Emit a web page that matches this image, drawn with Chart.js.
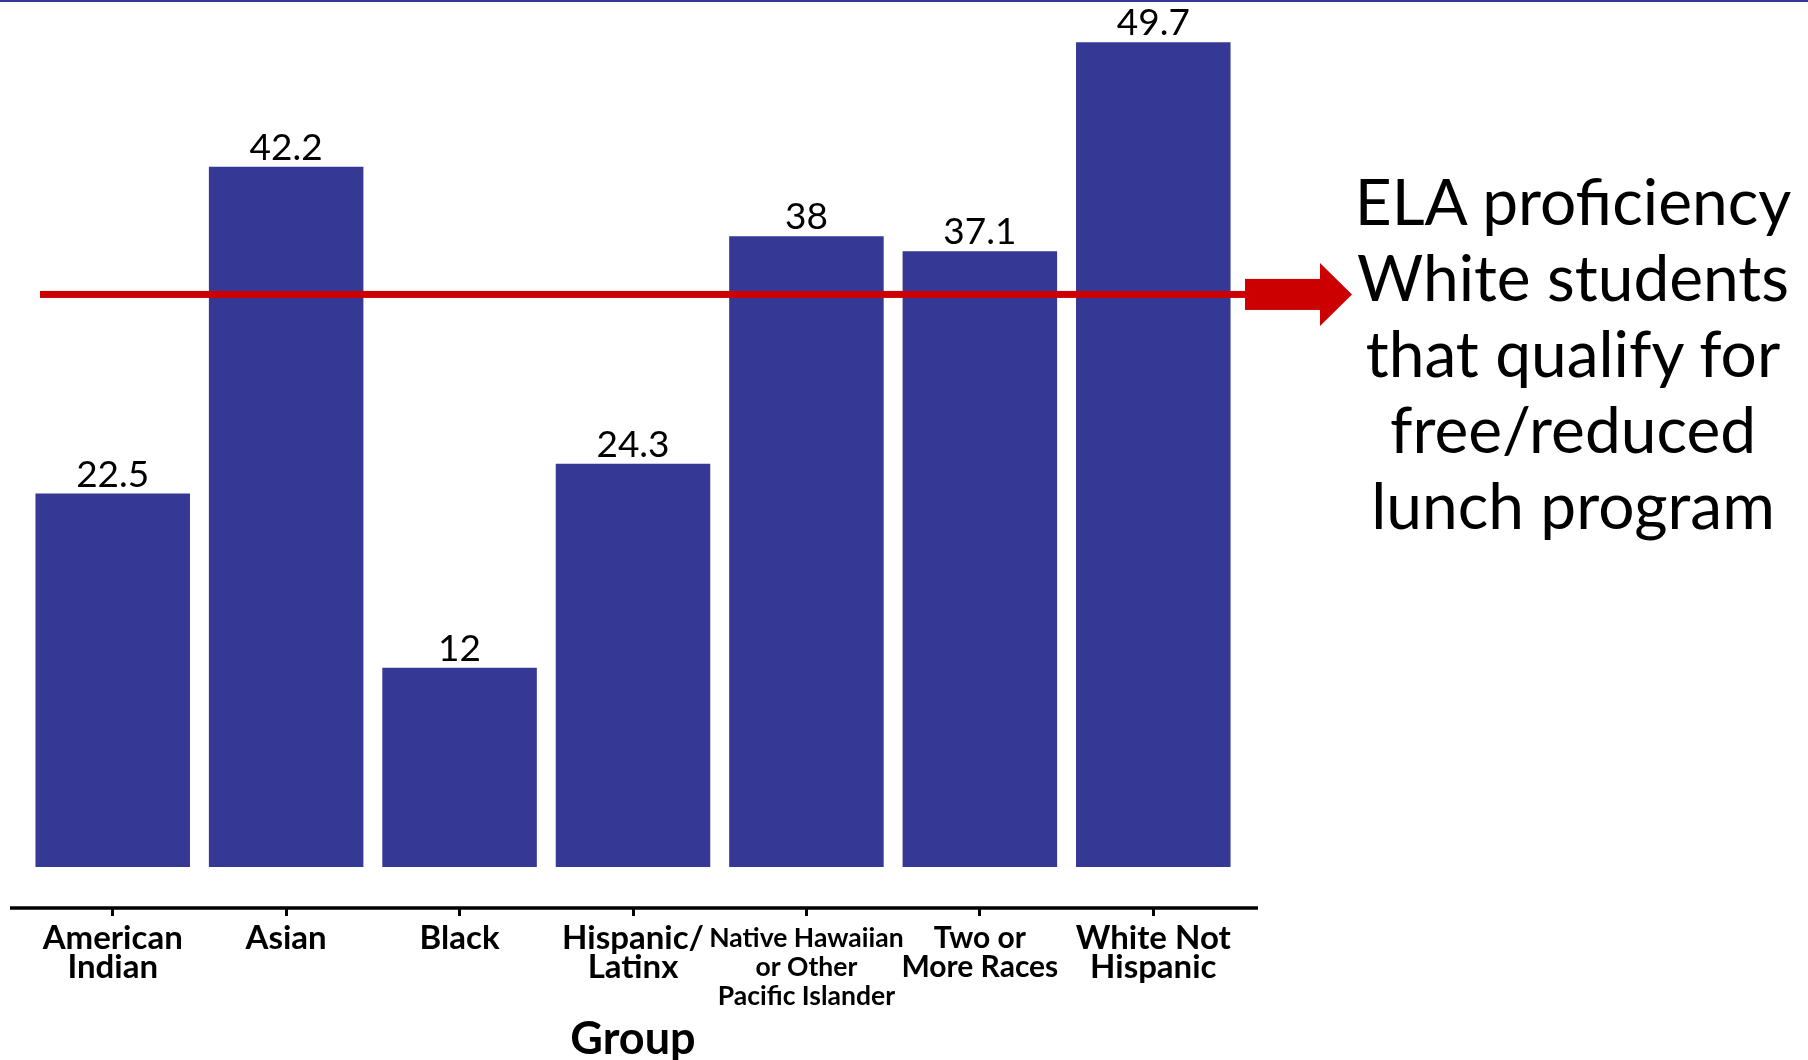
<!DOCTYPE html>
<html>
<head>
<meta charset="utf-8">
<script src="https://cdn.jsdelivr.net/npm/chart.js@4.4.1/dist/chart.umd.min.js"></script>
<style>
  html, body { margin: 0; padding: 0; background: #fff; }
  #wrap { position: relative; width: 1808px; height: 1060px; overflow: hidden; }
  #topLine { position: absolute; left: 0; top: 0; width: 1808px; height: 2px; background: #363895; }
  #note {
    position: absolute; left: 1333px; top: 163px; width: 480px;
    text-align: center; font-family: Lato, sans-serif; font-size: 64px; line-height: 76px; color: #000;
  }
</style>
</head>
<body>
<div id="wrap">
  <canvas id="groupChart"></canvas>
  <div id="topLine"></div>
  <div id="note">ELA proficiency<br>White students<br>that qualify for<br>free/reduced<br>lunch program</div>
</div>
<script>
// Group names (multi-line tick labels)
const groups = [
    ['American', 'Indian'],
    ['Asian'],
    ['Black'],
    ['Hispanic/', 'Latinx'],
    ['Native Hawaiian', 'or Other', 'Pacific Islander'],
    ['Two or', 'More Races'],
    ['White Not', 'Hispanic']
];
// ELA proficiency (%) per group
const proficiency = [22.5, 42.2, 12, 24.3, 38, 37.1, 49.7];
// White students that qualify for free/reduced lunch (red line)
const whiteFrlProficiency = 34.5;

const barColor = '#363895';
const red = '#cc0000';
// long labels are squeezed a bit in the original
const tickFontSizes = [33, 33, 33, 33, 26.5, 30, 33];

// Value labels, axis line and the red reference arrow
const extras = {
    id: 'extras',
    afterDatasetsDraw(chart) {
        const ctx = chart.ctx;
        const area = chart.chartArea;
        const meta = chart.getDatasetMeta(0);
        ctx.save();

        ctx.font = '37px Lato';
        ctx.fillStyle = '#000';
        ctx.textAlign = 'center';
        ctx.textBaseline = 'alphabetic';
        meta.data.forEach((bar, i) => {
            ctx.fillText(String(proficiency[i]), bar.x, bar.y - 7);
        });

        // x axis line, a little wider than the bars
        ctx.strokeStyle = '#000';
        ctx.lineWidth = 3.5;
        ctx.beginPath();
        ctx.moveTo(area.left - 16, area.bottom);
        ctx.lineTo(area.right + 18, area.bottom);
        ctx.stroke();

        // reference line + arrow
        const ry = chart.scales.y.getPixelForValue(whiteFrlProficiency);
        const lineStart = area.left + 14;
        const boxStart = area.right + 5;
        const boxEnd = area.right + 80;
        const tip = area.right + 112;
        ctx.fillStyle = red;
        ctx.fillRect(lineStart, ry - 3.5, boxStart - lineStart, 7);
        ctx.fillRect(boxStart, ry - 15.5, boxEnd - boxStart, 31);
        ctx.beginPath();
        ctx.moveTo(boxEnd, ry - 31.5);
        ctx.lineTo(tip, ry);
        ctx.lineTo(boxEnd, ry + 31.5);
        ctx.closePath();
        ctx.fill();

        ctx.restore();
    }
};

const chart = new Chart(document.getElementById('groupChart'), {
    type: 'bar',
    data: {
        labels: groups,
        datasets: [{
            label: 'ELA proficiency',
            data: proficiency,
            backgroundColor: barColor,
            borderWidth: 0,
            barPercentage: 0.891,
            categoryPercentage: 1.0
        }]
    },
    options: {
        responsive: true,
        maintainAspectRatio: false,
        animation: false,
        layout: {
            padding: { left: 26, right: 568, top: 4, bottom: 0 }
        },
        scales: {
            y: {
                display: false,
                min: -2.47,
                max: 52
            },
            x: {
                offset: true,
                border: { display: false },
                grid: {
                    display: true,
                    drawOnChartArea: false,
                    drawTicks: true,
                    offset: false,
                    tickLength: 8,
                    tickWidth: 3,
                    tickColor: '#000'
                },
                ticks: {
                    color: '#000',
                    padding: 8,
                    maxRotation: 0,
                    minRotation: 0,
                    autoSkip: false,
                    font: (c) => ({
                        family: 'Lato',
                        weight: 'bold',
                        size: tickFontSizes[c.index] || 33,
                        lineHeight: '29px'
                    })
                },
                title: {
                    display: true,
                    text: 'Group',
                    color: '#000',
                    font: { family: 'Lato', weight: 'bold', size: 45, lineHeight: '41px' },
                    padding: { top: 0, bottom: 0 }
                }
            }
        },
        plugins: {
            legend: { display: false },
            tooltip: { enabled: false }
        }
    },
    plugins: [extras]
});
</script>
</body>
</html>
